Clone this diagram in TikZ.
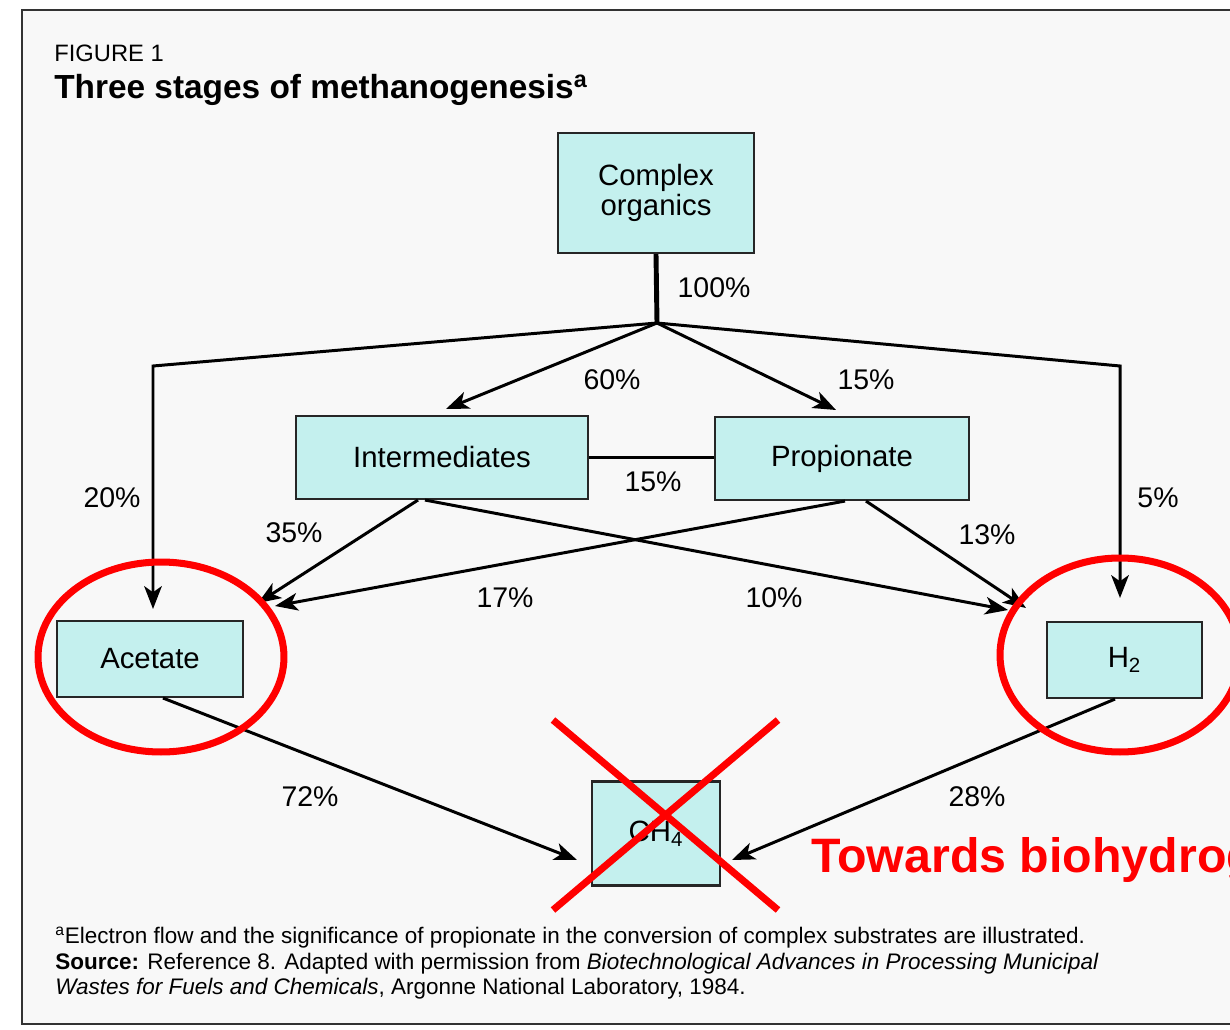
\documentclass[tikz,border=0pt]{standalone}
\usepackage{fontspec}
\setmainfont{Liberation Sans}
\usetikzlibrary{arrows.meta}

\definecolor{boxcyan}{RGB}{196,240,238}
\definecolor{paper}{RGB}{248,248,248}
\definecolor{markred}{RGB}{255,0,0}

\tikzset{
	stage/.style={draw=black!85, line width=1.2pt, fill=boxcyan, inner sep=0pt,
		align=center, font=\fontsize{16.7}{17}\selectfont},
	flow/.style={line width=1.7pt, -{Stealth[length=13pt,width=10pt,inset=3.5pt]}},
	pct/.style={font=\fontsize{16.2}{18}\selectfont},
	noteline/.style={anchor=base west, inner sep=0pt, font=\fontsize{12.8}{15}\selectfont},
	redring/.style={draw=markred, line width=4pt},
}

\begin{document}
\begin{tikzpicture}[x=0.02cm, y=-0.02cm]
		\useasboundingbox (0, 0) rectangle (1230, 1030);
		\clip (0, 0) rectangle (1230, 1030);
		\fill[white] (0, 0) rectangle (1230, 1030);
		\draw[line width=1pt, draw=black!80, fill=paper] (22, 10) rectangle (1260, 1024);

		% 見出し
		\node[anchor=base west, inner sep=0pt, font=\fontsize{13.5}{15}\selectfont] (figno) at (54, 62) {FIGURE 1};
		\node[anchor=base west, inner sep=0pt, font=\fontsize{19}{21}\bfseries] (title) at (54, 99) {Three stages of methanogenesis\textsuperscript{a}};

		% 箱を描画
		\node[stage, minimum width=3.92cm, minimum height=2.4cm] (complex) at (656, 193) {Complex\\organics};
		\node[stage, minimum width=5.84cm, minimum height=1.66cm] (inter) at (442, 457.5) {Intermediates};
		\node[stage, minimum width=5.08cm, minimum height=1.66cm] (prop) at (842, 458.5) {Propionate};
		\node[stage, minimum width=3.72cm, minimum height=1.52cm] (acetate) at (150, 659) {Acetate};
		\node[stage, minimum width=3.1cm, minimum height=1.52cm] (htwo) at (1124.5, 660) {H\textsubscript{2}};
		\node[stage, minimum width=2.56cm, minimum height=2.08cm] (methane) at (656, 833.5) {CH\textsubscript{4}};

		% 分岐点と矢印の先
		\coordinate (fork) at (657, 323);
		\coordinate (lturn) at (153, 366);
		\coordinate (rturn) at (1120, 366);
		\coordinate (tipA) at (153, 609);
		\coordinate (tipH) at (1120, 598);
		\coordinate (tipI) at (446, 409);
		\coordinate (tipP) at (836, 410);
		\coordinate (tipIA) at (258, 603);
		\coordinate (tipPA) at (275, 606);
		\coordinate (tipIH) at (1008, 610);
		\coordinate (tipPH) at (1026, 608);
		\coordinate (tipAC) at (577, 860);
		\coordinate (tipHC) at (732, 860);

		% 上の段
		\draw[line width=2.8pt] (complex.south) -- (fork);
		\node[pct] (p100) at (714, 288) {100\%};
		\draw[flow] (fork) -- (lturn) -- (tipA);
		\draw[flow] (fork) -- (rturn) -- (tipH);
		\draw[flow] (fork) -- (tipI);
		\draw[flow] (fork) -- (tipP);
		\node[pct] (p60) at (612, 380) {60\%};
		\node[pct] (p15a) at (866, 380) {15\%};
		\node[pct] (p20) at (112, 498) {20\%};
		\node[pct] (p5) at (1158, 498) {5\%};

		% 中の段
		\draw[line width=1.7pt] (inter.east) -- (inter.east -| prop.west);
		\node[pct] (p15b) at (653, 482) {15\%};
		\draw[flow] ([xshift=-0.48cm]inter.south) -- (tipIA);
		\draw[flow] ([xshift=-0.34cm]inter.south) -- (tipIH);
		\draw[flow] ([xshift=0.06cm]prop.south) -- (tipPA);
		\draw[flow] ([xshift=0.48cm]prop.south) -- (tipPH);
		\node[pct] (p35) at (294, 533) {35\%};
		\node[pct] (p13) at (987, 535) {13\%};
		\node[pct] (p17) at (505, 598) {17\%};
		\node[pct] (p10) at (774, 598) {10\%};

		% 下の段
		\draw[flow] ([xshift=0.26cm]acetate.south) -- (tipAC);
		\draw[flow] ([xshift=-0.19cm]htwo.south) -- (tipHC);
		\node[pct] (p72) at (310, 797) {72\%};
		\node[pct] (p28) at (977, 797) {28\%};

		% 注
		\node[noteline] (note1) at (55, 943) {\textsuperscript{a}Electron flow and the significance of propionate in the conversion of complex substrates are illustrated.};
		\node[noteline] (note2) at (55, 969) {\textbf{Source:} Reference 8. Adapted with permission from \textit{Biotechnological Advances in Processing Municipal}};
		\node[noteline] (note3) at (55, 994) {\textit{Wastes for Fuels and Chemicals}, Argonne National Laboratory, 1984.};

		% 赤い印
		\draw[redring] (161, 657) ellipse (2.46cm and 1.9cm);
		\draw[redring] (1120, 655) ellipse (2.4cm and 1.94cm);
		\draw[redring] (553, 720) -- (778, 910);
		\draw[redring] (778, 720) -- (553, 910);
		\node[anchor=base west, inner sep=0pt, text=markred, font=\fontsize{27.5}{30}\bfseries] (towards) at (811, 872) {Towards biohydrogen};
\end{tikzpicture}
\end{document}
